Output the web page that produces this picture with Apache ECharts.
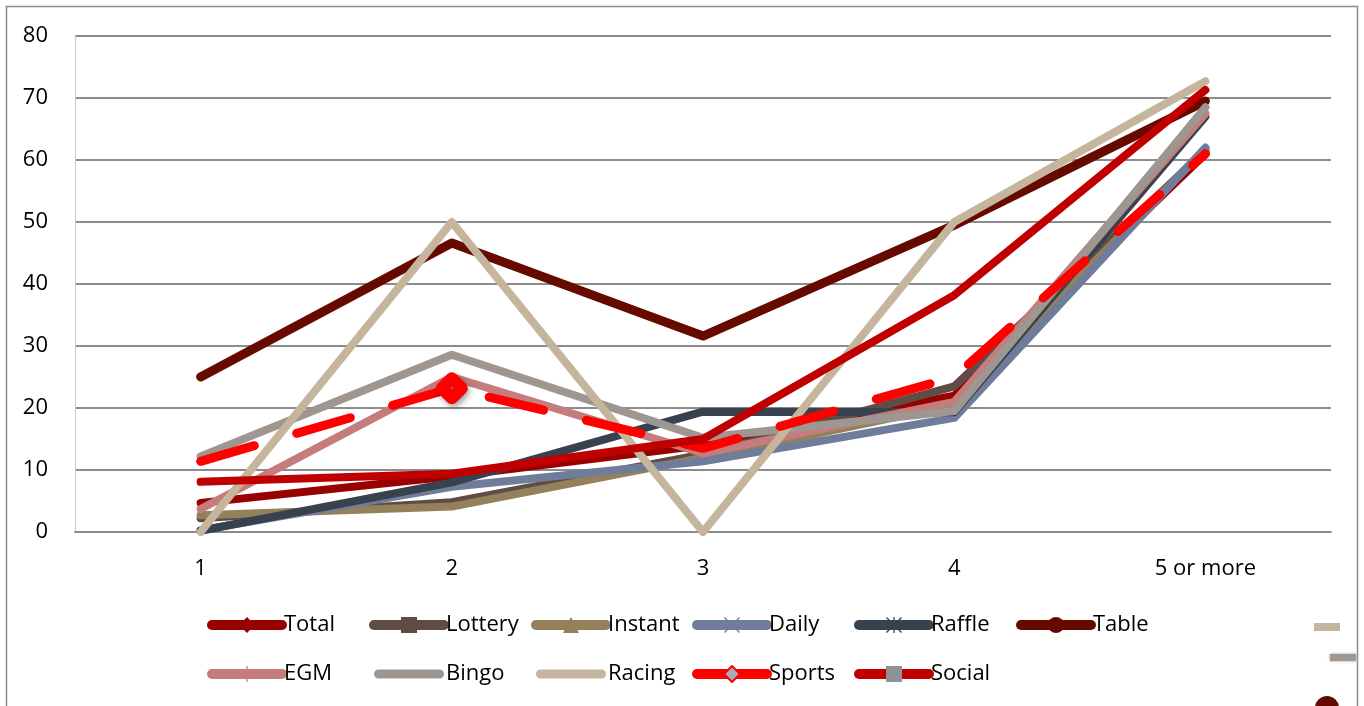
<!DOCTYPE html>
<html lang="en" style="height: 100%">
<head>
    <meta charset="utf-8">
</head>
<body style="height: 100%; margin: 0">
<div id="container" style="height: 100%"></div>

<script type="text/javascript" src="https://fastly.jsdelivr.net/npm/echarts@6.0.0/dist/echarts.min.js"></script>

<script type="text/javascript">
    var categories = ['1', '2', '3', '4', '5 or more'];

    var total   = [4.7, 9.0, 14.0, 22.0, 61.0];
    var lottery = [2.2, 4.8, 12.5, 23.5, 61.5];
    var instant = [2.7, 4.1, 12.0, 20.5, 61.8];
    var daily   = [0.3, 7.3, 11.4, 18.4, 62.0];
    var raffle  = [0.2, 8.0, 19.4, 19.3, 67.0];
    var table   = [25.0, 46.6, 31.6, 49.5, 69.5];
    var egm     = [3.7, 25.0, 12.7, 21.0, 67.5];
    var bingo   = [12.2, 28.6, 15.2, 19.5, 68.5];
    var racing  = [0, 50, 0, 50, 72.7];
    var sports  = [11.4, 23.2, 13.5, 25.0, 61.0];
    var social  = [8.1, 9.4, 15.0, 38.2, 71.3];

    var yTicks = [0, 10, 20, 30, 40, 50, 60, 70, 80];

    var FONT = '"Open Sans"';

    // small legend glyphs (corner dots keep the box square so thin shapes stay thin)
    var corners = 'M0,0h0.01v0.01h-0.01zM9.99,9.99h0.01v0.01h-0.01z';
    var plusPath = 'path://' + corners + 'M4.6,0h0.8v10h-0.8z';
    var crossPath = 'path://' + corners + 'M0,0.6L0.6,0L10,9.4L9.4,10ZM9.4,0L10,0.6L0.6,10L0,9.4Z';
    var starPath = 'path://' + corners + 'M0,0.6L0.6,0L10,9.4L9.4,10ZM9.4,0L10,0.6L0.6,10L0,9.4ZM4.6,0h0.8v10h-0.8z';
    // plain thick bar for the series without a marker
    var barIcon = 'path://M0,0h0.01v0.01h-0.01zM77,19.99h0.01v0.01h-0.01z' +
        'M4.5,5h68a5,5 0 0 1 0,10h-68a5,5 0 0 1 0,-10z';

    var dom = document.getElementById('container');
    var myChart = echarts.init(dom, null, {renderer: 'canvas'});

    function makeLine(name, data, color, symbol, opts) {
        opts = opts || {};
        return {
            name: name,
            type: 'line',
            data: data,
            symbol: symbol,
            showSymbol: false,
            silent: true,
            lineStyle: {
                color: color,
                width: opts.width || 8,
                cap: 'round',
                join: 'round'
            },
            itemStyle: {color: opts.fill || color},
            emphasis: {disabled: true},
            animation: false
        };
    }

    var seriesList = [
        makeLine('Total', total, '#990000', 'diamond'),
        makeLine('Lottery', lottery, '#5f4d45', 'rect'),
        makeLine('Instant', instant, '#94805a', 'triangle'),
        makeLine('Daily', daily, '#6f7d9b', crossPath),
        makeLine('Raffle', raffle, '#38424f', starPath),
        makeLine('Table', table, '#660a00', 'circle', {width: 9}),
        makeLine('EGM', egm, '#c47c7c', plusPath),
        makeLine('Bingo', bingo, '#9e9691', 'none'),
        makeLine('Racing', racing, '#c4b59c', 'none'),
        makeLine('Sports', sports, '#ff0000', 'diamond', {width: 9, fill: '#a3abbd'}),
        makeLine('Social', social, '#c00000', 'rect', {fill: '#8e9196'})
    ];

    // sports: dashed line, one big marker on the second point
    var sp = seriesList[9];
    sp.lineStyle.type = [56, 44];
    sp.showSymbol = true;
    sp.symbolSize = function (val, params) {
        return params.dataIndex === 1 ? 20 : 0;
    };
    sp.itemStyle = {
        color: '#a3abbd',
        borderColor: '#ff0000',
        borderWidth: 12,
        borderJoin: 'round',
        shadowBlur: 6,
        shadowColor: 'rgba(0,0,0,0.35)',
        shadowOffsetX: 2,
        shadowOffsetY: 3
    };

    function legendCol(left, names) {
        return {
            orient: 'vertical',
            left: left,
            top: 612,
            padding: 0,
            itemWidth: 70,
            itemHeight: 20,
            itemGap: 23,
            selectedMode: false,
            data: names.map(function (n) {
                var item = {name: n};
                if (n === 'Bingo' || n === 'Racing') {
                    item.icon = barIcon;
                }
                if (n === 'Sports') {
                    item.itemStyle = {borderWidth: 2};
                }
                return item;
            }),
            lineStyle: {width: 10, type: 'solid'},
            textStyle: {
                fontFamily: FONT,
                fontSize: 22,
                color: '#000',
                lineHeight: 26,
                padding: [0, 0, 0, -3]
            }
        };
    }

    var option = {
        backgroundColor: '#fff',
        animation: false,
        grid: {
            left: 75,
            right: 33,
            top: 36,
            bottom: 174
        },
        legend: [
            legendCol(207, ['Total', 'EGM']),
            legendCol(369, ['Lottery', 'Bingo']),
            legendCol(531, ['Instant', 'Racing']),
            legendCol(692, ['Daily', 'Sports']),
            legendCol(854, ['Raffle', 'Social']),
            legendCol(1016, ['Table'])
        ],
        xAxis: {
            type: 'category',
            data: categories,
            boundaryGap: true,
            axisLine: {lineStyle: {color: '#8c8c8c', width: 2}},
            axisTick: {show: false},
            axisLabel: {
                margin: 26,
                color: '#000',
                fontFamily: FONT,
                fontSize: 22
            }
        },
        yAxis: {
            type: 'value',
            min: yTicks[0],
            max: yTicks[yTicks.length - 1],
            interval: 10,
            axisLine: {show: true, lineStyle: {color: '#c8c8c8', width: 1}},
            axisTick: {show: false},
            splitLine: {lineStyle: {color: '#8c8c8c', width: 2}},
            axisLabel: {
                margin: 27,
                color: '#000',
                fontFamily: FONT,
                fontSize: 22
            }
        },
        graphic: [
            {
                type: 'rect',
                shape: {x: 6.5, y: 6.5, width: 1351, height: 740},
                style: {fill: null, stroke: '#8c8c8c', lineWidth: 1.5},
                silent: true
            },
            // remains of a clipped third legend column at the right edge
            {
                type: 'rect',
                shape: {x: 1314, y: 623, width: 26, height: 8},
                style: {fill: '#c4b59c'},
                silent: true
            },
            {
                type: 'rect',
                shape: {x: 1330, y: 654, width: 26, height: 7},
                style: {fill: '#9e9691', shadowBlur: 3, shadowColor: '#9e9691'},
                silent: true
            },
            {
                type: 'circle',
                shape: {cx: 1327, cy: 708, r: 12},
                style: {fill: '#660a00'},
                silent: true
            }
        ],
        series: seriesList
    };

    myChart.setOption(option);
    window.addEventListener('resize', myChart.resize);
</script>
</body>
</html>
